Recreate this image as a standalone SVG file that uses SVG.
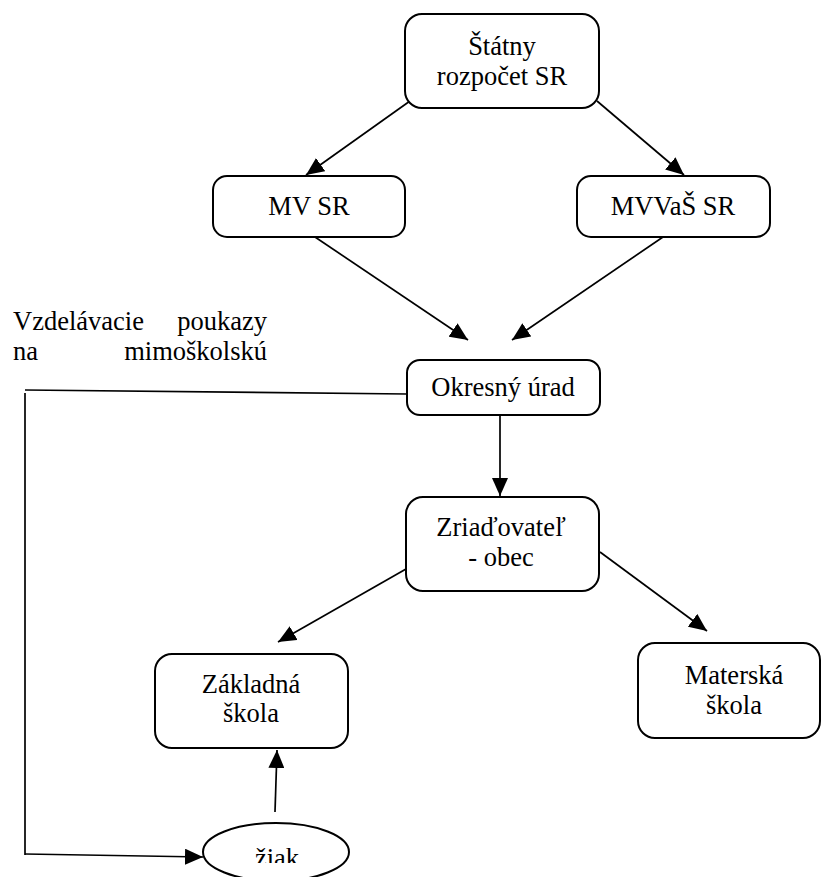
<svg xmlns="http://www.w3.org/2000/svg" width="823" height="877" viewBox="0 0 823 877">
<style>
.box{fill:#fff;stroke:#000;stroke-width:2}
text{font-family:'Liberation Serif','Times New Roman',serif;font-size:26.5px;fill:#000}
.t{text-anchor:middle}
.c{stroke:#000;stroke-width:1.7;fill:none}
.ca{stroke:#000;stroke-width:1.7;fill:none;marker-end:url(#ah)}
</style>
<defs>
<marker id="ah" markerUnits="userSpaceOnUse" markerWidth="18" markerHeight="16" refX="18" refY="8" orient="auto" viewBox="0 0 18 16">
<path d="M0,0 L18,8 L0,16 z" fill="#000"/>
</marker>
<clipPath id="clipZ"><rect x="200" y="820" width="160" height="43"/></clipPath>
</defs>
<rect width="823" height="877" fill="#fff"/>
<g id="connectors">
<line class="ca" x1="410" y1="101" x2="306" y2="175"/>
<line class="ca" x1="597" y1="101" x2="684" y2="175"/>
<line class="ca" x1="315" y1="237" x2="468" y2="340"/>
<line class="ca" x1="663" y1="237" x2="512" y2="340"/>
<line class="ca" x1="500" y1="415" x2="500" y2="496"/>
<line class="ca" x1="406" y1="569" x2="278" y2="642"/>
<line class="ca" x1="600" y1="552" x2="707" y2="631"/>
<line class="ca" x1="275" y1="812" x2="277" y2="750"/>
<line class="c" x1="407" y1="394" x2="25" y2="390"/>
<line class="c" x1="25" y1="393" x2="25" y2="855"/>
<line class="ca" x1="25" y1="854" x2="203" y2="857"/>
</g>
<g id="statny">
<rect class="box" x="405" y="14" width="194" height="94" rx="17"/>
<text class="t" x="502" y="55">Štátny</text>
<text class="t" x="502" y="85">rozpočet SR</text>
</g>
<g id="mvsr">
<rect class="box" x="213" y="176" width="192" height="61" rx="14"/>
<text class="t" x="309" y="215">MV SR</text>
</g>
<g id="mvvas">
<rect class="box" x="577" y="176" width="193" height="61" rx="14"/>
<text class="t" x="673" y="215">MVVaŠ SR</text>
</g>
<g id="label">
<text y="330"><tspan x="13">Vzdelávacie</tspan><tspan x="267" text-anchor="end">poukazy</tspan></text>
<text y="360"><tspan x="13">na</tspan><tspan x="267" text-anchor="end">mimoškolskú</tspan></text>
</g>
<g id="okresny">
<rect class="box" x="407" y="360" width="193" height="55" rx="13"/>
<text class="t" x="503" y="396">Okresný úrad</text>
</g>
<g id="zriadovatel">
<rect class="box" x="406" y="497" width="193" height="94" rx="17"/>
<text class="t" x="501" y="536">Zriaďovateľ</text>
<text class="t" x="501" y="566">- obec</text>
</g>
<g id="zakladna">
<rect class="box" x="155" y="654" width="193" height="94" rx="17"/>
<text class="t" x="251" y="693">Základná</text>
<text class="t" x="251" y="722">škola</text>
</g>
<g id="materska">
<rect class="box" x="638" y="643" width="182" height="95" rx="17"/>
<text class="t" x="734" y="684">Materská</text>
<text class="t" x="734" y="714">škola</text>
</g>
<g id="ziak">
<ellipse class="box" cx="276" cy="852" rx="73" ry="29"/>
<text class="t" x="277" y="867" clip-path="url(#clipZ)">žiak</text>
</g>
</svg>
